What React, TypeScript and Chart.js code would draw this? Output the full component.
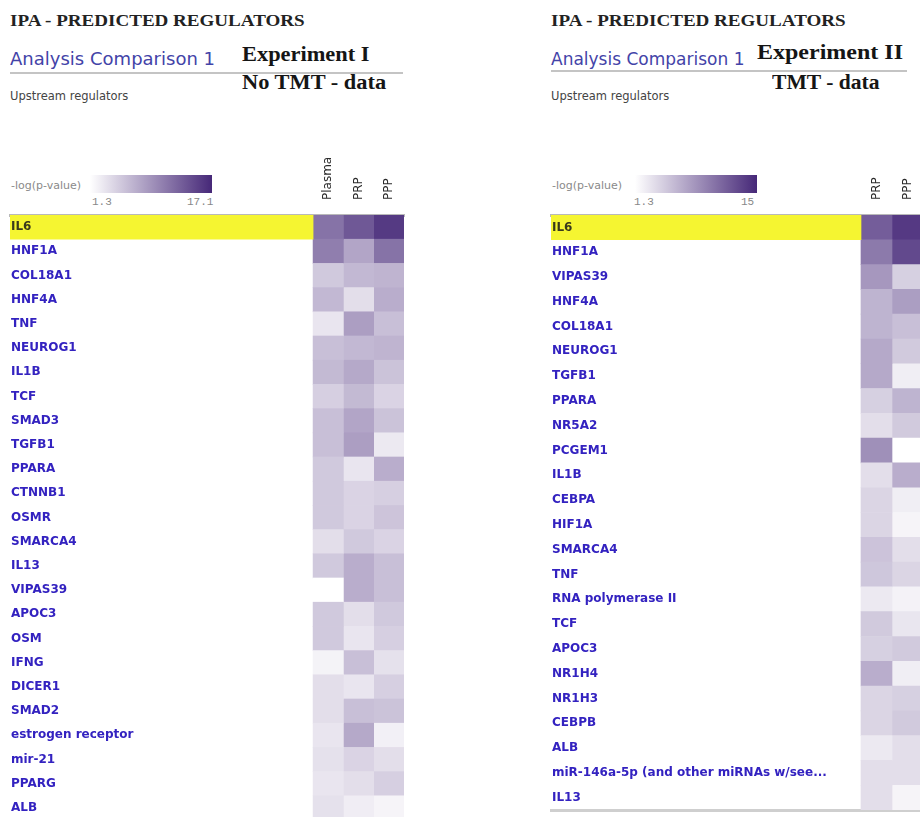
import React, { useEffect, useRef } from 'react';
import { Chart, registerables } from 'chart.js';

Chart.register(...registerables);

// ---------------- data ----------------
const SELECTED = 'IL6';

const LEFT_REGULATORS = ['IL6', 'HNF1A', 'COL18A1', 'HNF4A', 'TNF', 'NEUROG1', 'IL1B', 'TCF', 'SMAD3', 'TGFB1', 'PPARA', 'CTNNB1', 'OSMR', 'SMARCA4', 'IL13', 'VIPAS39', 'APOC3', 'OSM', 'IFNG', 'DICER1', 'SMAD2', 'estrogen receptor', 'mir-21', 'PPARG', 'ALB'];
const LEFT_COLUMNS = ['Plasma', 'PRP', 'PPP'];
const LEFT_PLASMA = [11.6, 10.8, 5.3, 6.5, 3.2, 6.0, 6.4, 4.8, 6.0, 6.0, 5.3, 5.3, 5.3, 3.7, 5.3, 1.3, 5.3, 5.3, 2.2, 3.7, 3.7, 3.2, 3.5, 3.2, 3.5];
const LEFT_PRP = [13.6, 7.9, 6.5, 3.7, 8.4, 6.5, 7.6, 6.4, 7.9, 8.4, 3.2, 4.5, 4.5, 5.3, 7.3, 7.3, 3.7, 3.2, 6.0, 3.2, 6.0, 7.6, 4.5, 3.7, 2.6];
const LEFT_PPP = [15.8, 11.6, 6.8, 7.3, 6.0, 6.8, 5.7, 4.5, 5.7, 2.9, 7.3, 4.8, 5.6, 4.5, 6.0, 6.0, 5.3, 4.8, 3.5, 4.8, 5.7, 2.4, 3.7, 4.8, 2.1];
const LEFT_RANGE = [1.3, 17.1];
const LEFT_RANGE_LABELS = ['1.3', '17.1'];

const RIGHT_REGULATORS = ['IL6', 'HNF1A', 'VIPAS39', 'HNF4A', 'COL18A1', 'NEUROG1', 'TGFB1', 'PPARA', 'NR5A2', 'PCGEM1', 'IL1B', 'CEBPA', 'HIF1A', 'SMARCA4', 'TNF', 'RNA polymerase II', 'TCF', 'APOC3', 'NR1H4', 'NR1H3', 'CEBPB', 'ALB', 'miR-146a-5p (and other miRNAs w/see...', 'IL13'];
const RIGHT_COLUMNS = ['PRP', 'PPP'];
const RIGHT_PRP = [11.6, 9.8, 7.9, 6.1, 6.1, 6.8, 6.8, 4.3, 3.4, 8.4, 3.4, 4.0, 4.0, 5.1, 4.9, 2.7, 4.7, 4.3, 6.5, 4.0, 4.0, 2.7, 3.4, 3.4];
const RIGHT_PPP = [13.9, 12.9, 4.3, 7.5, 5.4, 4.7, 2.4, 6.1, 4.7, 1.3, 6.5, 2.4, 2.0, 3.4, 4.0, 2.1, 2.9, 4.7, 2.4, 4.3, 4.7, 3.4, 3.4, 2.0];
const RIGHT_RANGE = [1.3, 15];
const RIGHT_RANGE_LABELS = ['1.3', '15'];

// ---------------- styling ----------------
const LOW = [255, 255, 255];
const HIGH = [70, 40, 120];
const LABEL_UNITS = 10; // width of the label column, in heat-map column units

function colorFor(v: number, range: number[]) {
  let t = (v - range[0]) / (range[1] - range[0]);
  t = Math.max(0, Math.min(1, t));
  const c = LOW.map((l, i) => Math.round(l + (HIGH[i] - l) * t));
  return `rgb(${c[0]},${c[1]},${c[2]})`;
}

function buildConfig(rows: string[], columns: string[], series: number[][], range: number[], withBottom: boolean, pad: any): any {
  const datasets: any[] = [
    {
      label: 'selected',
      data: rows.map((r) => (r === SELECTED ? [-LABEL_UNITS, 0] : null)),
      backgroundColor: '#f5f531',
      grouped: false,
      barPercentage: 1,
      categoryPercentage: 1,
      borderWidth: 0,
    },
    ...columns.map((c, ci) => ({
      label: c,
      data: rows.map(() => [ci, ci + 1]),
      backgroundColor: series[ci].map((v) => colorFor(v, range)),
      grouped: false,
      barPercentage: 1,
      categoryPercentage: 1,
      borderWidth: 0,
    })),
  ];
  const noPad = (s: any) => {
    s.paddingTop = 0;
    s.paddingBottom = 0;
    s.paddingLeft = 0;
    s.paddingRight = 0;
  };
  const scales: any = {
    x: {
      type: 'linear',
      position: 'top',
      min: -LABEL_UNITS,
      max: columns.length,
      grid: { display: false, drawTicks: false },
      border: { display: true, color: '#b9b9b9', width: 3 },
      afterBuildTicks: (s: any) => {
        s.ticks = columns.map((_, i) => ({ value: i + 0.5 }));
      },
      afterFit: (s: any) => {
        s.height = 65;
        noPad(s);
      },
      ticks: {
        autoSkip: false,
        minRotation: 90,
        maxRotation: 90,
        padding: 15,
        color: '#2a2a2a',
        font: { family: 'DejaVu Sans', size: 12, lineHeight: '0px' },
        callback: (_v: any, i: number) => columns[i],
      },
    },
    y: {
      type: 'category',
      position: 'left',
      grid: { display: false, drawTicks: false },
      border: { display: false },
      afterFit: (s: any) => {
        s.width = 0;
        noPad(s);
      },
      ticks: {
        mirror: true,
        padding: 1,
        z: 2,
        autoSkip: false,
        color: (ctx: any) => (rows[ctx.index] === SELECTED ? '#3a3a1c' : '#3322c0'),
        font: { family: 'DejaVu Sans', size: 12, weight: 'bold' },
      },
    },
  };
  if (withBottom) {
    scales.x2 = {
      type: 'linear',
      axis: 'x',
      position: 'bottom',
      min: -LABEL_UNITS,
      max: columns.length,
      grid: { display: false, drawTicks: false },
      border: { display: true, color: '#cfcfcf', width: 3 },
      ticks: { display: false },
      afterFit: (s: any) => {
        s.height = 0;
        noPad(s);
      },
    };
  }
  return {
    type: 'bar',
    data: { labels: rows, datasets },
    options: {
      indexAxis: 'y',
      responsive: false,
      maintainAspectRatio: false,
      animation: false,
      layout: { padding: pad },
      plugins: { legend: { display: false }, tooltip: { enabled: false } },
      scales,
    },
  };
}

function Heatmap(props: { config: any; left: number; top: number; width: number; height: number }) {
  const ref = useRef<HTMLCanvasElement | null>(null);
  useEffect(() => {
    if (!ref.current) return;
    const chart = new Chart(ref.current, props.config);
    return () => chart.destroy();
  }, []);
  return (
    <canvas
      ref={ref}
      width={props.width}
      height={props.height}
      style={{ position: 'absolute', left: props.left, top: props.top, width: props.width, height: props.height }}
    />
  );
}

function Txt(props: { x: number; y: number; size: number; family: string; color: string; bold?: boolean; sx?: number; children: any }) {
  return (
    <div
      style={{
        position: 'absolute',
        left: props.x,
        top: props.y,
        fontSize: props.size,
        lineHeight: props.size + 'px',
        fontFamily: props.family,
        fontWeight: props.bold ? 'bold' : 'normal',
        color: props.color,
        whiteSpace: 'nowrap',
        transform: `scaleX(${props.sx ?? 1})`,
        transformOrigin: 'left top',
      }}
    >
      {props.children}
    </div>
  );
}

const SERIF = "'Liberation Serif', 'Times New Roman', serif";
const SANS = "'DejaVu Sans', sans-serif";
const MONO = "'Liberation Mono', monospace";

function Header(props: { x: number; exp: string; sub: string; expX: number; subX: number; expY: number; expSx: number; subSx: number; anSx: number; lineY: number; lineW: number; barX: number; rangeLabels: string[]; lowX: number; highX: number }) {
  const { x } = props;
  return (
    <>
      <Txt x={x} y={12} size={17} family={SERIF} color="#222" bold sx={1.12}>IPA - PREDICTED REGULATORS</Txt>
      <Txt x={x} y={51} size={17} family={SANS} color="#4343a8" sx={props.anSx}>Analysis Comparison 1</Txt>
      <Txt x={props.expX} y={props.expY} size={20} family={SERIF} color="#151515" bold sx={props.expSx}>{props.exp}</Txt>
      <div style={{ position: 'absolute', left: x, top: props.lineY, width: props.lineW, height: 2, background: '#c4c4c4' }} />
      <Txt x={props.subX} y={72} size={20} family={SERIF} color="#151515" bold sx={props.subSx}>{props.sub}</Txt>
      <Txt x={x} y={91} size={11.5} family={SANS} color="#444">Upstream regulators</Txt>
      <Txt x={x + 1} y={180} size={11} family={SANS} color="#8a8a8a">-log(p-value)</Txt>
      <div
        style={{
          position: 'absolute',
          left: props.barX,
          top: 175,
          width: 122,
          height: 18,
          background: `linear-gradient(to right, rgb(${LOW.join(',')}), rgb(${HIGH.join(',')}))`,
        }}
      />
      <Txt x={props.lowX} y={197} size={11} family={MONO} color="#888">{props.rangeLabels[0]}</Txt>
      <Txt x={props.highX} y={197} size={11} family={MONO} color="#888">{props.rangeLabels[1]}</Txt>
    </>
  );
}

const leftConfig = buildConfig(LEFT_REGULATORS, LEFT_COLUMNS, [LEFT_PLASMA, LEFT_PRP, LEFT_PPP], LEFT_RANGE, false, { left: 10, right: 6, top: 0, bottom: 1 });
const rightConfig = buildConfig(RIGHT_REGULATORS, RIGHT_COLUMNS, [RIGHT_PRP, RIGHT_PPP], RIGHT_RANGE, true, { left: 10, right: 0, top: 0, bottom: 4 });

export default function App() {
  useEffect(() => {
    document.body.style.margin = '0';
    document.body.style.overflow = 'hidden';
  }, []);
  return (
    <div style={{ position: 'relative', width: 920, height: 817, overflow: 'hidden', background: '#fff' }}>
      <Header x={10} exp="Experiment I" sub="No TMT - data" expX={242} subX={242} expY={44} expSx={1.12} subSx={1.12} anSx={1.06} lineY={72} lineW={393} barX={90} rangeLabels={LEFT_RANGE_LABELS} lowX={92} highX={187} />
      <Header x={551} exp="Experiment II" sub="TMT - data" expX={757} subX={772} expY={42} expSx={1.2} subSx={1.08} anSx={1.0} lineY={70} lineW={356} barX={635} rangeLabels={RIGHT_RANGE_LABELS} lowX={634} highX={741} />
      <Heatmap config={leftConfig} left={0} top={150} width={410} height={671} />
      <Heatmap config={rightConfig} left={541} top={150} width={382} height={664} />
    </div>
  );
}
